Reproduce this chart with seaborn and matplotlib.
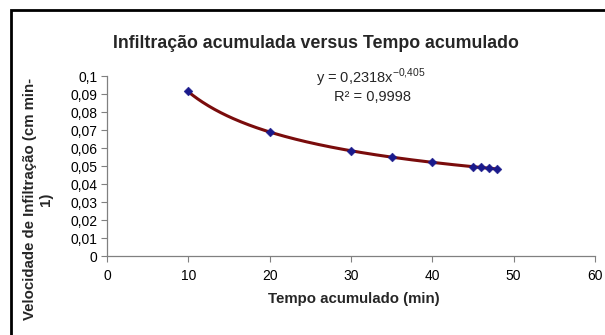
import numpy as np
import pandas as pd
import matplotlib
matplotlib.use("Agg")
import matplotlib.pyplot as plt
import seaborn as sns
from matplotlib.patches import Rectangle

# Data
tempo = [10, 20, 30, 35, 40, 45, 46, 47, 48]
velocidade = [0.0915, 0.0688, 0.0585, 0.0549, 0.0521, 0.0496, 0.0492, 0.0488, 0.0484]
coef_a = 0.2318
coef_b = -0.405
x_ticks = [0, 10, 20, 30, 40, 50, 60]
y_ticks = [0, 0.01, 0.02, 0.03, 0.04, 0.05, 0.06, 0.07, 0.08, 0.09, 0.1]
y_tick_labels = ["0", "0,01", "0,02", "0,03", "0,04", "0,05", "0,06", "0,07", "0,08", "0,09", "0,1"]
title = "Infiltração acumulada versus Tempo acumulado"
xlabel = "Tempo acumulado (min)"
ylabel = "Velocidade de Infiltração (cm min-\n1)"

sns.set_theme(style="white")
plt.rcParams["font.family"] = ["Liberation Sans", "DejaVu Sans"]
plt.rcParams["mathtext.fontset"] = "custom"
plt.rcParams["mathtext.rm"] = "Liberation Sans"

fig = plt.figure(figsize=(6.05, 3.35), dpi=100)
ax = fig.add_axes([107 / 605, 1 - 256 / 335, (595 - 107) / 605, (256 - 76) / 335])

df = pd.DataFrame({"tempo": tempo, "velocidade": velocidade})
xfit = np.linspace(min(tempo), max(tempo), 200)
fit = pd.DataFrame({"x": xfit, "y": coef_a * xfit ** coef_b})

sns.lineplot(data=fit, x="x", y="y", ax=ax, color="#7a0c0c", linewidth=2.2, zorder=2)
sns.scatterplot(data=df, x="tempo", y="velocidade", ax=ax, marker="D", s=20,
                color="#1a1a8c", edgecolor="#1a1a8c", zorder=3)

ax.set_xlim(0, 60)
ax.set_ylim(0, 0.1)
ax.set_xticks(x_ticks)
ax.set_xticklabels([str(t) for t in x_ticks])
ax.set_yticks(y_ticks)
ax.set_yticklabels(y_tick_labels)
ax.tick_params(axis="both", direction="out", length=4, width=0.8, color="#808080",
               labelsize=10, labelcolor="black", left=True, bottom=True)
ax.tick_params(axis="x", pad=5)
ax.tick_params(axis="y", pad=3)
for s in ["top", "right"]:
    ax.spines[s].set_visible(False)
for s in ["left", "bottom"]:
    ax.spines[s].set_color("#808080")
    ax.spines[s].set_linewidth(0.9)
ax.set_xlabel("")
ax.set_ylabel("")

fig.text(316 / 605, 1 - 43 / 335, title, ha="center", va="center",
         fontsize=12.8, fontweight="bold")
fig.text(354 / 605, 1 - 299 / 335, xlabel, ha="center", va="center",
         fontsize=10.8, fontweight="bold")
fig.text(38 / 605, 1 - 199 / 335, ylabel, ha="center", va="center", rotation=90,
         fontsize=10.8, fontweight="bold", multialignment="center", linespacing=1.2)

fig.text(371 / 605, 1 - 78 / 335, "y = 0,2318x$^{\\mathregular{-0{,}405}}$", ha="center",
         va="center", fontsize=10.5)
fig.text(372 / 605, 1 - 97 / 335, "R² = 0,9998", ha="center", va="center",
         fontsize=10.5)

rect = Rectangle((11 / 605, -0.2), 1.2, 1 - 10 / 335 + 0.2, transform=fig.transFigure,
                 fill=False, edgecolor="black", linewidth=2, clip_on=False)
fig.patches.append(rect)

fig.savefig("out.png", dpi=100)
